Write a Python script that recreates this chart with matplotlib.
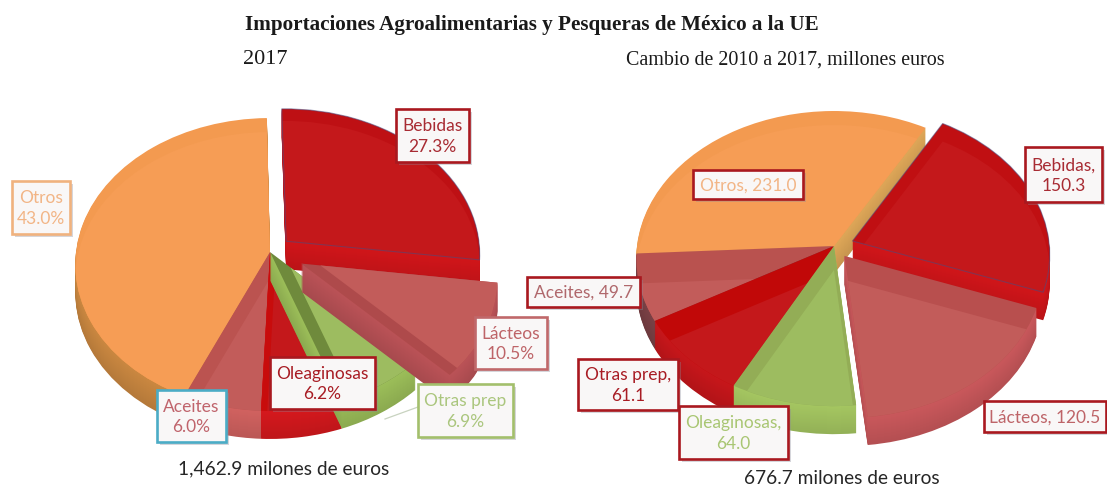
import matplotlib
matplotlib.use("Agg")
import matplotlib.pyplot as plt
import numpy as np
from matplotlib.patches import Rectangle, Polygon
from matplotlib.transforms import Transform
from matplotlib.colors import to_rgb

# ---- data ----
names_left = ["Bebidas", "Lácteos", "Otras prep", "Oleaginosas", "Aceites", "Otros"]
values_left = [27.3, 10.5, 6.9, 6.2, 6.0, 43.0]
names_right = ["Bebidas", "Lácteos", "Oleaginosas", "Otras prep", "Aceites", "Otros"]
values_right = [150.3, 120.5, 64.0, 61.1, 49.7, 231.0]

title = "Importaciones Agroalimentarias y Pesqueras de México a la UE"
sub_left = "2017"
sub_right = "Cambio de 2010 a 2017, millones euros"
total_left = "1,462.9 milones de euros"
total_right = "676.7 milones de euros"

# ---- style ----
C_RED, C_ROSE, C_GREEN, C_ORANGE = "#C4181B", "#C25C5A", "#9DBC60", "#F69D55"
STY_L = {  # top, band, wall, band shift
    "Bebidas": (C_RED, "#BE1014", "#BC1317", (0, 12)),
    "Lácteos": (C_ROSE, "#AE4A4B", "#A84A4E", (10, -5)),
    "Otras prep": (C_GREEN, "#6F8A3C", "#8CAB50", (16, 6)),
    "Oleaginosas": (C_RED, "#C80C0C", "#C0161A", (6, 4)),
    "Aceites": (C_ROSE, "#BB5350", "#BC5856", (12, 6)),
    "Otros": (C_ORANGE, "#F39A50", "#B67A3A", (0, 14)),
}
STY_R = {
    "Bebidas": (C_RED, "#C00F12", "#BC1317", (0, 18)),
    "Lácteos": (C_ROSE, "#B84F4E", "#B54F52", (0, 24)),
    "Oleaginosas": (C_GREEN, "#93AD56", "#94B257", (0, 24)),
    "Otras prep": (C_RED, "#C10808", "#B31418", (0, 26)),
    "Aceites": (C_ROSE, "#B9524F", "#6E3A3E", (0, 30)),
    "Otros": (C_ORANGE, "#F39A50", "#C8964F", (0, 14)),
}


class Persp(Transform):
    """Perspective view of the pie plane, output in figure pixels."""
    input_dims = output_dims = 2
    is_separable = False
    has_inverse = False

    def __init__(self, cx, cy, a, b, k, dx=0.0, dy=0.0):
        super().__init__()
        self.p = (cx, cy, a, b, k, dx, dy)

    def transform_non_affine(self, values):
        cx, cy, a, b, k, dx, dy = self.p
        v = np.asarray(values, dtype=float)
        w = 1 + k * v[:, 1]
        return np.column_stack([cx + dx + v[:, 0] * a / w, cy + dy - v[:, 1] * b / w])


def clip_convex(subject, clip):
    """Sutherland-Hodgman: polygon subject against convex polygon clip."""
    clip = np.asarray(clip)
    area = np.sum(clip[:, 0] * np.roll(clip[:, 1], -1) - np.roll(clip[:, 0], -1) * clip[:, 1])
    sign = 1.0 if area > 0 else -1.0
    out = [tuple(p) for p in subject]
    for i in range(len(clip)):
        a, b = clip[i], clip[(i + 1) % len(clip)]
        e = b - a
        if np.hypot(*e) < 1e-6 or not out:
            continue
        side = lambda p: sign * (e[0] * (p[1] - a[1]) - e[1] * (p[0] - a[0]))
        new = []
        for j in range(len(out)):
            p, q = np.array(out[j]), np.array(out[(j + 1) % len(out)])
            sp, sq = side(p), side(q)
            if sp >= 0:
                new.append(tuple(p))
            if sp * sq < 0:
                new.append(tuple(p + (q - p) * sp / (sp - sq)))
        out = new
    return np.array(out)


W, H = 1107, 489
fig = plt.figure(figsize=(W / 100, H / 100), dpi=100, facecolor="white")
ax = fig.add_axes([0, 0, 1, 1])


def draw_pie(names, values, explode, start, geom, sty, order, depth=28):
    cx, cy, a, b, k = geom
    rank = {n: i for i, n in enumerate(order)}

    def call():
        wedges, _ = ax.pie(values, explode=explode, startangle=start,
                           counterclock=False, radius=1.0,
                           wedgeprops=dict(linewidth=0))
        return wedges

    # walls: stacked copies of the pie, lowest first
    for d in range(depth, 0, -1):
        f = 1.115 - 0.12 * (d / depth)
        for n, w in zip(names, call()):
            wall = np.array(to_rgb(sty[n][2]))
            w.set_facecolor(tuple(np.clip(wall * f, 0, 1)))
            w.set_edgecolor("none")
            w.set_transform(Persp(cx, cy, a, b, k, 0, d) + ax.transData)
            w.set_zorder(10 + rank[n] * 10 + (depth - d) / depth)
    # top faces: band colour, then the shifted body cut to the top face
    for n, t in zip(names, call()):
        top, band, _, (sx, sy) = sty[n]
        tr = Persp(cx, cy, a, b, k)
        t.set_facecolor(band)
        t.set_transform(tr + ax.transData)
        t.set_zorder(11.5 + rank[n] * 10)
        outer = tr.transform_path(t.get_path()).to_polygons(closed_only=False)[0]
        shifted = Persp(cx, cy, a, b, k, sx, sy).transform_path(t.get_path()).to_polygons(closed_only=False)[0]
        body = clip_convex(shifted, outer)
        ax.add_patch(Polygon(body, closed=True, fc=top, ec="none", zorder=11.6 + rank[n] * 10))
        if n == "Bebidas":
            ax.add_patch(Polygon(outer, closed=True, fc="none", ec=(0.3, 0.3, 0.5, 0.55),
                                 lw=0.8, zorder=11.7 + rank[n] * 10))


EXP_L = [0.112, 0.178, 0, 0, 0, 0]
EXP_R = [0.10, 0.085, 0, 0, 0, 0]
draw_pie(names_left, values_left, EXP_L, 91, (270, 253, 194, 145.4, 0.0853), STY_L,
         ["Otros", "Bebidas", "Aceites", "Oleaginosas", "Otras prep", "Lácteos"])
draw_pie(names_right, values_right, EXP_R, 60, (834, 247, 197, 146.5, 0.0853), STY_R,
         ["Otros", "Bebidas", "Aceites", "Otras prep", "Oleaginosas", "Lácteos"])

ax.set_aspect("auto")
ax.set_xlim(0, W)
ax.set_ylim(H, 0)
ax.axis("off")

LABEL = "Lato"
FS = 12.5
DARK = "#A9181F"


def label(txt, box, edge, color):
    x0, y0, x1, y1 = box
    ax.add_patch(Rectangle((x0 + 2.5, y0 + 3), x1 - x0, y1 - y0, fc="#8a8a9a", ec="none",
                           alpha=0.35, zorder=90))
    ax.add_patch(Rectangle((x0, y0), x1 - x0, y1 - y0, fc="#F9F7F7", ec=edge, lw=1.9,
                           zorder=91))
    ax.text((x0 + x1) / 2, (y0 + y1) / 2, txt, color=color, ha="center", va="center",
            family=LABEL, fontsize=FS, zorder=92, linespacing=1.35)


# left pie labels
ax.plot([385, 418], [420, 408], color="#C8D3C0", lw=0.9, zorder=89)
label(f"Bebidas\n{values_left[0]:.1f}%", (396, 110, 469, 163), DARK, "#A82B33")
label(f"Otros\n{values_left[5]:.1f}%", (12, 182, 70, 235), "#F0B27E", "#F2B586")
label(f"Lácteos\n{values_left[1]:.1f}%", (475, 318, 547, 370), "#C0686A", "#BE6468")
label(f"Oleaginosas\n{values_left[3]:.1f}%", (270, 358, 375, 410), DARK, "#A81C24")
label(f"Otras prep\n{values_left[2]:.1f}%", (418, 385, 513, 438), "#A3BF6C", "#ABC67E")
label(f"Aceites\n{values_left[4]:.1f}%", (157, 391, 226, 443), "#4BACC6", "#C0646C")
# right pie labels
label(f"Bebidas,\n{values_right[0]:.1f}", (1025, 148, 1102, 203), DARK, "#A82B33")
label(f"Otros, {values_right[5]:.1f}", (693, 171, 803, 200), DARK, "#F2B586")
label(f"Aceites, {values_right[4]:.1f}", (527, 278, 640, 308), DARK, "#B0686C")
label(f"Otras prep,\n{values_right[3]:.1f}", (578, 360, 678, 411), DARK, "#A81C24")
label(f"Oleaginosas,\n{values_right[2]:.1f}", (679, 407, 788, 460), DARK, "#A9C673")
label(f"Lácteos, {values_right[1]:.1f}", (984, 402, 1106, 433), DARK, "#BE6468")

ax.text(284, 469, total_left, ha="center", va="center", family=LABEL, fontsize=13.8,
        color="#262626", zorder=95)
ax.text(842, 479, total_right, ha="center", va="center", family=LABEL, fontsize=13.8,
        color="#262626", zorder=95)

ax.text(532, 25, title, ha="center", va="center", family="Liberation Serif",
        fontweight="bold", fontsize=15.2, color="#1a1a1a", zorder=95)
ax.text(243, 60, sub_left, ha="left", va="center", family="Liberation Serif",
        fontsize=16, color="#1a1a1a", zorder=95)
ax.text(626, 60, sub_right, ha="left", va="center", family="Liberation Serif",
        fontsize=14.4, color="#1a1a1a", zorder=95)

fig.savefig("out.png", dpi=100, facecolor="white")
